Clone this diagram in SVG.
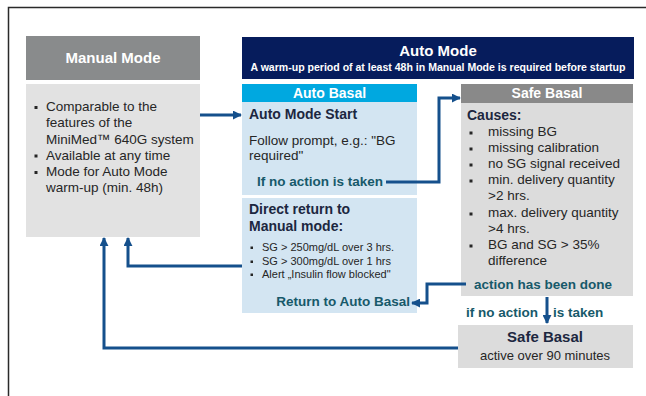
<svg xmlns="http://www.w3.org/2000/svg" width="646" height="396" viewBox="0 0 646 396">
<style>
text{font-family:"Liberation Sans",Arial,sans-serif}
.hw{fill:#fff;font-weight:bold;font-size:14px;text-anchor:middle}
.b{fill:#1c2740;font-weight:bold;font-size:14px}
.t{fill:#262626;font-size:13.5px}
.s{fill:#262626;font-size:11px}
.tl{fill:#17596a;font-weight:bold;font-size:13.5px}
.bul{fill:#262626}
.con{fill:none;stroke:#15508c;stroke-width:3}
</style>
<defs>
<marker id="ah" viewBox="0 0 10 10" refX="9" refY="5" markerWidth="3" markerHeight="3" orient="auto" markerUnits="strokeWidth">
<path d="M0,0 L10,5 L0,10 z" fill="#15508c"/>
</marker>
</defs>
<rect width="646" height="396" fill="#fff"/>
<path d="M8.5,396 V7.5 H646" fill="none" stroke="#2a2a2a" stroke-width="1.5"/>

<g id="manual-mode">
<rect x="26" y="36" width="174" height="44" fill="#898b8c"/>
<text class="hw" x="113" y="63" style="font-size:15px">Manual Mode</text>
<rect x="26" y="84" width="174" height="153" fill="#e2e2e2"/>
<rect class="bul" x="34.5" y="106" width="3" height="3"/>
<rect class="bul" x="34.5" y="154.5" width="3" height="3"/>
<rect class="bul" x="34.5" y="171" width="3" height="3"/>
<text class="t" x="46" y="111">Comparable to the</text>
<text class="t" x="46" y="127">features of the</text>
<text class="t" x="46" y="143.5">MiniMed™ 640G system</text>
<text class="t" x="46" y="159.5">Available at any time</text>
<text class="t" x="46" y="176">Mode for Auto Mode</text>
<text class="t" x="46" y="192">warm-up (min. 48h)</text>
</g>

<g id="auto-mode">
<rect x="242" y="37" width="392" height="42" fill="#061c5c"/>
<text class="hw" x="438" y="56" style="font-size:15px">Auto Mode</text>
<text x="438" y="71" fill="#fff" font-weight="bold" font-size="10" text-anchor="middle" textLength="375" lengthAdjust="spacingAndGlyphs">A warm-up period of at least 48h in Manual Mode is required before startup</text>
</g>

<g id="auto-basal">
<rect x="242" y="84" width="175" height="18" fill="#00a8e0"/>
<text class="hw" x="329.5" y="98">Auto Basal</text>
<rect x="242" y="102" width="175" height="93" fill="#d3e5f2"/>
<text class="b" x="249" y="119">Auto Mode Start</text>
<text class="t" x="249" y="145">Follow prompt, e.g.: "BG</text>
<text class="t" x="249" y="160">required"</text>
<text class="tl" x="257" y="186">If no action is taken</text>
</g>

<g id="direct-return">
<rect x="242" y="198" width="175" height="115" fill="#d3e5f2"/>
<text class="b" x="249" y="214">Direct return to</text>
<text class="b" x="249" y="231">Manual mode:</text>
<rect class="bul" x="250.5" y="246.5" width="2.5" height="2.5"/>
<rect class="bul" x="250.5" y="260.5" width="2.5" height="2.5"/>
<rect class="bul" x="250.5" y="273.5" width="2.5" height="2.5"/>
<text class="s" x="262" y="251">SG &gt; 250mg/dL over 3 hrs.</text>
<text class="s" x="262" y="265">SG &gt; 300mg/dL over 1 hrs</text>
<text class="s" x="262" y="278">Alert „Insulin  flow blocked"</text>
<text class="tl" x="410" y="306" text-anchor="end">Return to Auto Basal</text>
</g>

<g id="safe-basal">
<rect x="461" y="84" width="172" height="19" fill="#898989"/>
<text class="hw" x="547" y="98">Safe Basal</text>
<rect x="461" y="103" width="172" height="193" fill="#dcdcdc"/>
<text class="b" x="467" y="120">Causes:</text>
<rect class="bul" x="469.5" y="131.5" width="3" height="3"/>
<rect class="bul" x="469.5" y="147.5" width="3" height="3"/>
<rect class="bul" x="469.5" y="163.5" width="3" height="3"/>
<rect class="bul" x="469.5" y="179.5" width="3" height="3"/>
<rect class="bul" x="469.5" y="212.5" width="3" height="3"/>
<rect class="bul" x="469.5" y="244.5" width="3" height="3"/>
<text class="t" x="488" y="136">missing BG</text>
<text class="t" x="488" y="152">missing calibration</text>
<text class="t" x="488" y="168">no SG signal  received</text>
<text class="t" x="488" y="184">min. delivery quantity</text>
<text class="t" x="488" y="200">&gt;2 hrs.</text>
<text class="t" x="488" y="217">max. delivery quantity</text>
<text class="t" x="488" y="233">&gt;4 hrs.</text>
<text class="t" x="488" y="249">BG and SG &gt; 35%</text>
<text class="t" x="488" y="265">difference</text>
<text class="tl" x="474" y="289">action has been done</text>
</g>

<g id="safe-basal-active">
<rect x="458" y="325" width="175" height="43" fill="#dcdcdc"/>
<text class="b" x="545" y="342" text-anchor="middle" style="font-size:15px">Safe Basal</text>
<text class="t" x="545" y="360" text-anchor="middle" style="font-size:13px">active over 90 minutes</text>
</g>

<g id="labels">
<text class="tl" x="538" y="317" text-anchor="end">if no action</text>
<text class="tl" x="553" y="317">is taken</text>
</g>

<g id="connectors">
<path class="con" d="M200,115 H241" marker-end="url(#ah)"/>
<path class="con" d="M386,182 H439 V98 H460" marker-end="url(#ah)"/>
<path class="con" d="M466,284 H427 V303 H412" marker-end="url(#ah)"/>
<path class="con" d="M547,297 V323" marker-end="url(#ah)"/>
<path class="con" d="M242,266 H128 V238" marker-end="url(#ah)"/>
<path class="con" d="M458,348 H104 V238" marker-end="url(#ah)"/>
</g>
</svg>
